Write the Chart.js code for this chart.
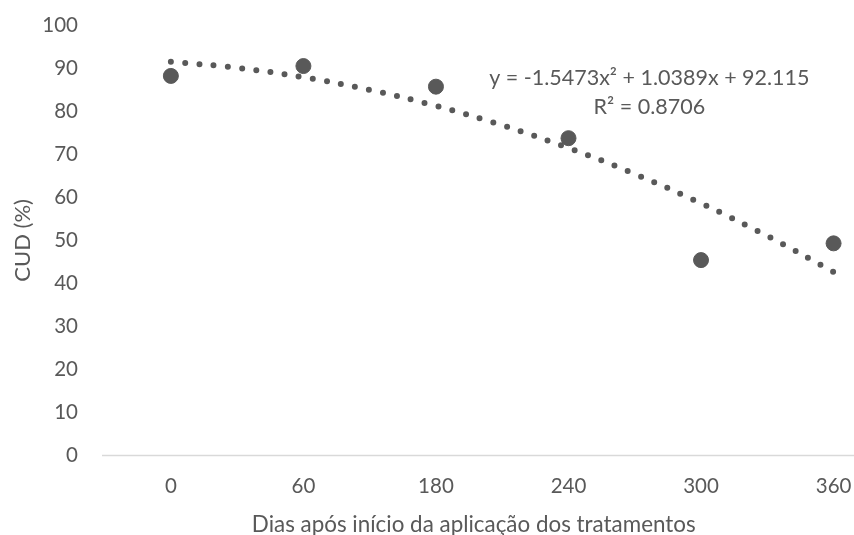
<!DOCTYPE html>
<html>
<head>
<meta charset="utf-8">
<script src="https://cdn.jsdelivr.net/npm/chart.js@4/dist/chart.umd.min.js"></script>
<style>
html,body{margin:0;padding:0;background:#fff;}
#wrap{width:854px;height:535px;position:relative;}
</style>
</head>
<body>
<div id="wrap"><canvas id="c" width="854" height="535"></canvas></div>
<script>
// Category labels (days) and their positions on the axis
const dayLabels = ["0", "60", "180", "240", "300", "360"];
const dayPos = [1, 2, 3, 4, 5, 6];
// Observed CUD (%) values
const cudValues = [88.3, 90.6, 85.8, 73.8, 45.4, 49.3];
// Polynomial trendline values
const trendPos = [1, 1.5, 2, 2.5, 3, 3.5, 4, 4.5, 5, 5.5, 6];
const trendValues = [91.61, 90.19, 88.00, 85.04, 81.31, 76.80, 71.51, 65.46, 58.63, 51.02, 42.65];
// Y tick labels
const yTicks = [0, 10, 20, 30, 40, 50, 60, 70, 80, 90, 100];
const eqText = "y = -1.5473x² + 1.0389x + 92.115";
const r2Text = "R² = 0.8706";

const FONT = "Lato, 'Open Sans', sans-serif";
const GREY = "#595959";

const labelPlugin = {
  id: 'eqLabel',
  beforeDatasetsDraw(chart) {
    // bottom axis line, running to the canvas edge
    const {ctx, scales} = chart;
    const y0 = Math.round(scales.y.getPixelForValue(0)) + 0.5;
    ctx.save();
    ctx.strokeStyle = '#d9d9d9';
    ctx.lineWidth = 1.5;
    ctx.beginPath();
    ctx.moveTo(scales.x.left, y0);
    ctx.lineTo(chart.width, y0);
    ctx.stroke();
    ctx.restore();
  },
  afterDatasetsDraw(chart) {
    const {ctx, scales} = chart;
    const x = scales.x.getPixelForValue(4.61);
    ctx.save();
    ctx.fillStyle = GREY;
    ctx.font = "21.5px " + FONT;
    ctx.textAlign = "center";
    ctx.textBaseline = "middle";
    ctx.fillText(eqText, x, scales.y.getPixelForValue(87.9));
    ctx.fillText(r2Text, x, scales.y.getPixelForValue(81.1));
    ctx.restore();
  }
};

new Chart(document.getElementById('c'), {
  type: 'scatter',
  data: {
    datasets: [
      {
        label: 'CUD',
        data: dayPos.map((x, i) => ({x: x, y: cudValues[i]})),
        backgroundColor: GREY,
        borderColor: GREY,
        pointRadius: 7.5,
        pointHoverRadius: 7.5,
        showLine: false,
        order: 0
      },
      {
        label: 'Trend',
        data: trendPos.map((x, i) => ({x: x, y: trendValues[i]})),
        showLine: true,
        borderColor: GREY,
        borderWidth: 6,
        borderDash: [0, 14.3],
        borderCapStyle: 'round',
        pointRadius: 0,
        tension: 0.4,
        fill: false,
        order: 1
      }
    ]
  },
  plugins: [labelPlugin],
  options: {
    responsive: false,
    animation: false,
    layout: {padding: {left: 0, right: 0, top: 25.7, bottom: 0}},
    plugins: {legend: {display: false}, tooltip: {enabled: false}},
    scales: {
      x: {
        type: 'linear',
        min: 0.4804,
        max: 6.09,
        afterBuildTicks: (axis) => { axis.ticks = dayPos.map(v => ({value: v})); },
        afterFit: (s) => { s.height = 80; s.paddingLeft = 0; s.paddingRight = 0; },
        ticks: {
          callback: (v) => { const i = dayPos.indexOf(v); return i >= 0 ? dayLabels[i] : ''; },
          color: GREY,
          font: {family: FONT, size: 20.5},
          padding: 19,
          autoSkip: false,
          maxRotation: 0
        },
        grid: {display: false, drawTicks: false},
        border: {display: false},
        title: {
          display: true,
          text: 'Dias após início da aplicação dos tratamentos',
          color: GREY,
          font: {family: FONT, size: 22.4},
          padding: {top: 0, bottom: -3}
        }
      },
      y: {
        min: 0,
        max: 100,
        afterBuildTicks: (axis) => { axis.ticks = yTicks.map(v => ({value: v})); },
        afterFit: (s) => { s.width = 102; s.paddingTop = 0; s.paddingBottom = 0; },
        ticks: {
          color: GREY,
          font: {family: FONT, size: 20.5},
          padding: 24
        },
        grid: {display: false, drawTicks: false},
        border: {display: false},
        title: {
          display: true,
          text: 'CUD (%)',
          color: GREY,
          font: {family: FONT, size: 22},
          padding: {top: 10, bottom: 0}
        }
      }
    }
  }
});
</script>
</body>
</html>
